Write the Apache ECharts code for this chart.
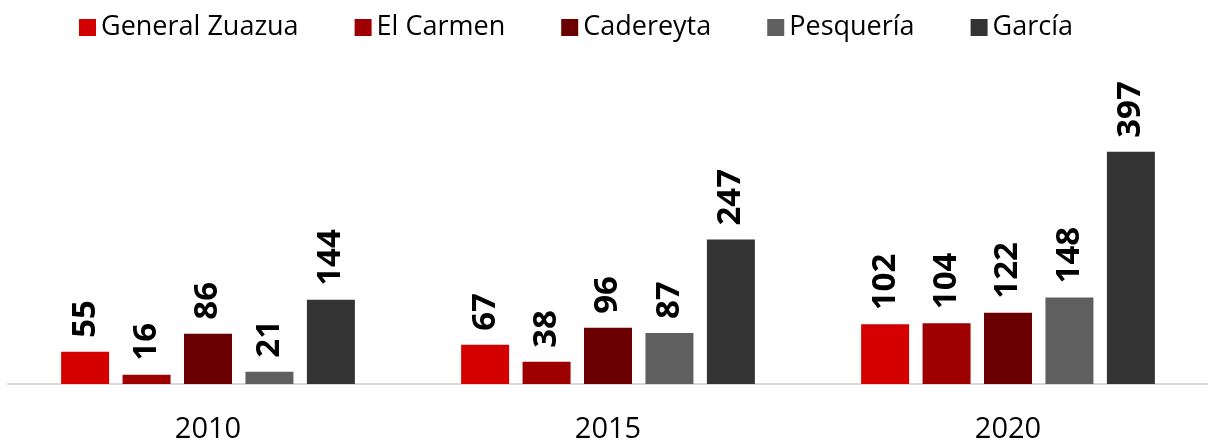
<!DOCTYPE html>
<html><head><meta charset="utf-8">
<script src="https://cdn.jsdelivr.net/npm/echarts@6/dist/echarts.min.js"></script>
<style>html,body{margin:0;padding:0;background:#fff}#c{width:1208px;height:444px}</style>
</head><body><div id="c"></div>
<script>
const categories = ['2010', '2015', '2020'];
const seriesNames = ['General Zuazua', 'El Carmen', 'Cadereyta', 'Pesquería', 'García'];
const generalZuazua = [55, 67, 102];
const elCarmen = [16, 38, 104];
const cadereyta = [86, 96, 122];
const pesqueria = [21, 87, 148];
const garcia = [144, 247, 397];
const colors = ['#D40000', '#9E0000', '#6B0000', '#5F5F5F', '#333333'];
const values = [generalZuazua, elCarmen, cadereyta, pesqueria, garcia];

const chart = echarts.init(document.getElementById('c'));
chart.setOption({
  animation: false,
  textStyle: { fontFamily: 'Open Sans' },
  legend: {
    top: 9, left: 74,
    itemWidth: 17, itemHeight: 17, itemGap: 56,
    icon: 'rect',
    textStyle: { fontSize: 27, color: '#000', fontFamily: 'Open Sans' },
    data: seriesNames
  },
  grid: { left: 8, right: 0, top: 150, bottom: 57 },
  xAxis: {
    type: 'category', data: categories,
    axisTick: { show: false },
    axisLine: { lineStyle: { color: '#d9d9d9', width: 2 } },
    axisLabel: { fontSize: 29, color: '#000', margin: 31, fontFamily: 'Open Sans' }
  },
  yAxis: { type: 'value', min: 0, max: 400, show: false, splitLine: { show: false } },
  series: seriesNames.map((n, i) => ({
    name: n, type: 'bar', data: values[i],
    barWidth: 48, barGap: '28%', barCategoryGap: '26.5%',
    itemStyle: { color: colors[i] },
    label: {
      show: true, position: 'top', rotate: 90, align: 'left', verticalAlign: 'middle',
      distance: 14, fontSize: 33, fontWeight: 'bold', color: '#000', fontFamily: 'Open Sans'
    }
  }))
});
</script></body></html>
